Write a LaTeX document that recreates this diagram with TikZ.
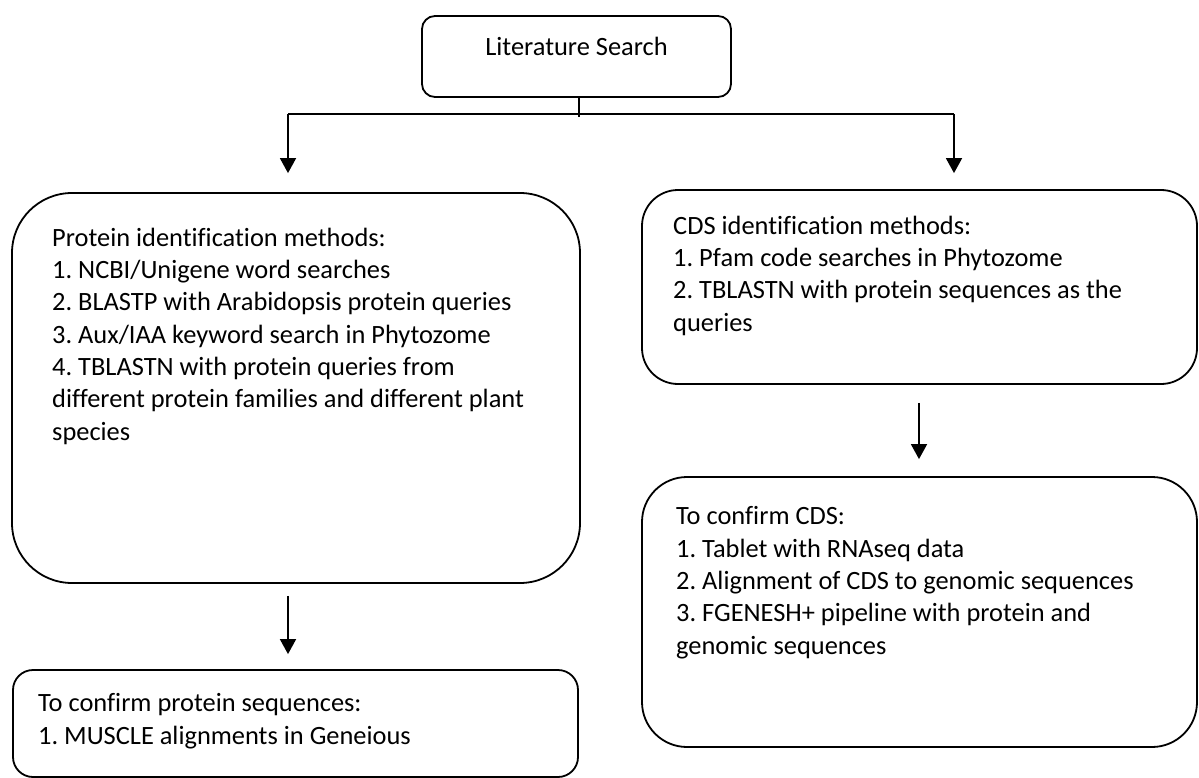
\documentclass[tikz,border=0pt]{standalone}
\usepackage{fontspec}
\setmainfont{Carlito}[Ligatures=NoCommon]
\usetikzlibrary{arrows.meta}
\begin{document}
\frenchspacing
\begin{tikzpicture}[x=1pt,y=-1pt,
  box/.style={draw,line width=1.8pt,inner sep=0pt,rectangle},
  txt/.style={inner sep=0pt,anchor=base west,align=left,font=\fontsize{26.4}{32.3}\selectfont},
  conn/.style={line width=1.7pt},
  arr/.style={line width=1.7pt,-{Triangle[width=16pt,length=15pt]}}]
\useasboundingbox (0,0) rectangle (1199,778);
% boxes
\node[box,rounded corners=13pt,minimum width=309pt,minimum height=81pt] (lit) at (576.5,56.5) {};
\node[inner sep=0pt,anchor=base,font=\fontsize{26.4}{32.3}\selectfont] (littxt) at (576.5,56) {Literature Search};
\node[box,rounded corners=60pt,minimum width=568pt,minimum height=390pt] (prot) at (296,388) {};
\node[box,rounded corners=36pt,minimum width=555pt,minimum height=194pt] (cds) at (919.5,287) {};
\node[box,rounded corners=20pt,minimum width=565pt,minimum height=107pt] (conf1) at (295.5,723.5) {};
\node[box,rounded corners=45pt,minimum width=555pt,minimum height=270pt] (conf2) at (919.5,612) {};
% texts (anchor = baseline of the last line)
\node[txt] (prottxt) at (52,440) {Protein identification methods:\\1. NCBI/Unigene word searches\\2. BLASTP with Arabidopsis protein queries\\3. Aux/IAA keyword search in Phytozome\\4. TBLASTN with protein queries from\\different protein families and different plant\\species};
\node[txt] (cdstxt) at (673,331) {CDS identification methods:\\1. Pfam code searches in Phytozome\\2. TBLASTN with protein sequences as the\\queries};
\node[txt] (conf1txt) at (38,744) {To confirm protein sequences:\\1. MUSCLE alignments in Geneious};
\node[txt] (conf2txt) at (676,654) {To confirm CDS:\\1. Tablet with RNAseq data\\2. Alignment of CDS to genomic sequences\\3. FGENESH+ pipeline with protein and\\genomic sequences};
% connectors
\coordinate (hl) at (288,114);
\coordinate (hr) at (954,114);
\coordinate (tick) at (579,117);
\draw[conn] (lit.south -| tick) -- (tick);
\draw[conn] (hl) -- (hr);
\draw[arr,shorten >=19pt] (hl) -- (hl |- prot.north);
\draw[arr,shorten >=16pt] (hr) -- (hr |- cds.north);
\draw[arr,shorten <=12pt,shorten >=15pt] (prot.south -| hl) -- (conf1.north -| hl);
\draw[arr,shorten <=18pt,shorten >=17pt] ([xshift=-0.5pt]cds.south) -- ([xshift=-0.5pt]cds.south |- conf2.north);
\end{tikzpicture}
\end{document}
